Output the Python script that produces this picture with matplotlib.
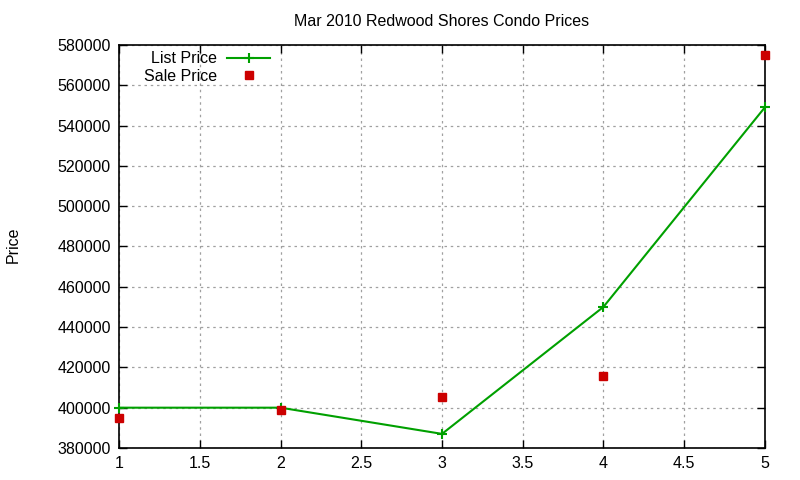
import matplotlib.pyplot as plt
import matplotlib.ticker as mticker

plt.rcParams["font.family"] = ["Liberation Sans", "DejaVu Sans"]

listing_index = [1, 2, 3, 4, 5]
list_price = [400000, 400000, 387000, 450000, 549000]
sale_price = [395000, 399000, 405500, 415500, 575000]

title_text = "Mar 2010 Redwood Shores Condo Prices"
y_label = "Price"

fig = plt.figure(figsize=(8, 4.8), dpi=100)
ax = fig.add_axes([0.149, 0.0667, 0.807, 0.8396])

ax.plot(listing_index, list_price, color="#00a000", linewidth=1.5,
        marker="+", markersize=7, markeredgewidth=1.5, label="List Price",
        clip_on=False, zorder=3)
ax.plot(listing_index, sale_price, linestyle="none", color="#cc0000",
        marker="s", markersize=6, label="Sale Price", clip_on=False, zorder=3)

ax.set_xlim(1, 5)
ax.set_ylim(380000, 580000)
ax.xaxis.set_major_locator(mticker.MultipleLocator(0.5))
ax.yaxis.set_major_locator(mticker.MultipleLocator(20000))
ax.xaxis.set_major_formatter(mticker.FuncFormatter(lambda v, p: f"{v:g}"))
ax.yaxis.set_major_formatter(mticker.FuncFormatter(lambda v, p: f"{int(v)}"))

ax.tick_params(direction="in", top=True, right=True, length=6, width=1,
               labelsize=11.5, pad=6)
ax.grid(True, color="#a0a0a0", linestyle=(0, (2, 3)), linewidth=0.9)
for spine in ax.spines.values():
    spine.set_linewidth(1.2)

ax.set_title(title_text, fontsize=11.5, pad=14)
fig.text(0.017, 0.49, y_label, rotation=90, fontsize=11.5, va="center", ha="center")

ax.legend(loc="upper left", frameon=False, markerfirst=False, fontsize=11.5,
          handlelength=2.7, handletextpad=0.6, borderaxespad=0.0,
          labelspacing=0.15, bbox_to_anchor=(0.029, 1.0))

fig.savefig("out.png", dpi=100)
